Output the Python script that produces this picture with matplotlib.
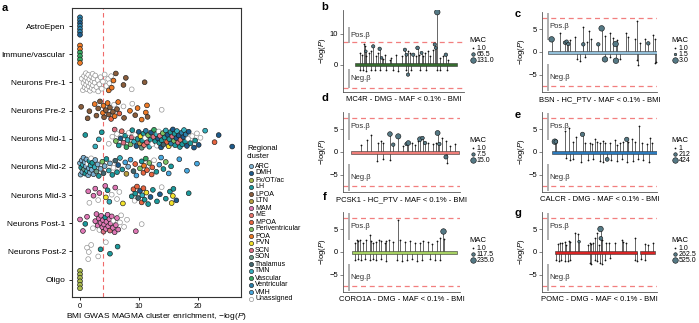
import matplotlib
matplotlib.use("Agg")
import matplotlib.pyplot as plt
import numpy as np
from matplotlib.patches import Rectangle

plt.rcParams["font.family"] = ["Liberation Sans", "DejaVu Sans"]
plt.rcParams["mathtext.fontset"] = "custom"
plt.rcParams["mathtext.rm"] = "Liberation Sans"
plt.rcParams["mathtext.it"] = "Liberation Sans:italic"

W, H = 699, 323
SIG = 7.3  # -log10(5e-8)
SLATE = "#557985"

# --- panel a: regional clusters --------------------------------------------
CLUSTERS = ["ARC", "DMH", "Fx/OT/ac", "LH", "LPOA", "LTN", "MAM", "ME", "MPOA",
            "Periventricular", "POA", "PVN", "SCN", "SON", "Thalamus", "TMN",
            "Vascular", "Ventricular", "VMH", "Unassigned"]
CODES = ["ARC", "DMH", "Fx", "LH", "LPOA", "LTN", "MAM", "ME", "MPOA",
         "Peri", "POA", "PVN", "SCN", "SON", "Thal", "TMN",
         "Vasc", "Vent", "VMH", "U"]
COLORS = ["#7fb3d3", "#1d5b8c", "#a9b94c", "#1c9a9c", "#8a5d3b", "#b79d3f",
          "#df77b5", "#e8736b", "#e8643f", "#7cc063", "#ee7a26", "#f2e22a",
          "#dc6f82", "#6b9a88", "#41656e", "#35afbd", "#36a862", "#2a7faa",
          "#47a8df", "#ffffff"]

ROWS = ["AstroEpen", "Immune/vascular", "Neurons Pre-1", "Neurons Pre-2",
        "Neurons Mid-1", "Neurons Mid-2", "Neurons Mid-3", "Neurons Post-1",
        "Neurons Post-2", "Oligo"]

ASTRO = [(0, "Vent"), (0, "Vent"), (0, "DMH"), (0, "Vent"), (0, "Vent"),
         (0, "Vent"), (0, "DMH")]
IMMUNE = [(0, "POA"), (0, "POA"), (0, "Vasc"), (0, "Vasc"), (0, "Vasc"),
          (0, "POA")]
PRE1 = [(0.3, "U"), (0.5, "U"), (0.6, "U"), (0.7, "U"), (0.8, "U"), (0.9, "U"),
        (1.0, "U"), (1.05, "U"), (1.1, "U"), (1.2, "U"), (1.3, "U"), (1.4, "U"),
        (1.5, "U"), (1.6, "U"), (1.7, "U"), (1.8, "U"), (1.9, "U"), (2.0, "U"),
        (2.1, "U"), (2.15, "U"), (2.2, "U"), (2.3, "U"), (2.4, "U"), (2.5, "U"),
        (2.6, "U"), (2.8, "U"), (3.0, "U"), (3.1, "U"), (3.3, "U"), (3.5, "U"),
        (3.7, "U"), (3.9, "U"), (4.2, "U"), (4.5, "U"), (4.8, "U"), (4.9, "POA"),
        (5.0, "U"), (5.3, "U"), (5.4, "POA"), (5.7, "POA"), (6.1, "LPOA"),
        (7.4, "LPOA"), (7.8, "LPOA"), (8.8, "U"), (11.0, "LPOA")]
PRE2 = [(0.2, "LPOA"), (1.3, "LPOA"), (1.6, "LPOA"), (2.5, "POA"), (2.8, "LPOA"),
        (3.1, "LPOA"), (3.4, "LPOA"), (3.9, "POA"), (4.0, "POA"), (4.1, "LPOA"),
        (4.4, "LPOA"), (4.7, "POA"), (4.9, "LPOA"), (5.1, "LPOA"), (5.3, "MPOA"),
        (5.6, "LPOA"), (5.8, "U"), (5.9, "POA"), (6.3, "LPOA"), (6.5, "POA"),
        (6.7, "MPOA"), (7.4, "U"), (7.5, "LPOA"), (8.5, "POA"), (8.9, "U"),
        (9.4, "LPOA"), (9.8, "POA"), (10.5, "POA"), (11.2, "POA"), (11.4, "POA"),
        (11.5, "LPOA"), (13.9, "U")]
MID1 = [(0.9, "LH"), (2.6, "TMN"), (3.2, "TMN"), (3.7, "LH"), (4.9, "U"),
        (5.5, "U"), (5.9, "SCN"), (6.1, "Peri"), (6.3, "U"), (6.6, "LH"),
        (6.9, "DMH"), (7.1, "ME"), (7.4, "SCN"), (7.7, "LH"), (7.9, "Vasc"),
        (8.1, "TMN"), (8.3, "U"), (8.6, "Peri"), (8.8, "SCN"), (8.9, "LH"),
        (9.2, "TMN"), (9.4, "U"), (9.6, "DMH"), (9.8, "LH"), (10.0, "DMH"),
        (10.2, "LTN"), (10.3, "PVN"), (10.5, "SON"), (10.6, "LH"), (10.8, "LH"),
        (10.9, "ME"), (11.1, "U"), (11.2, "Vent"), (11.4, "SCN"), (11.6, "Peri"),
        (11.8, "TMN"), (12.0, "LH"), (12.1, "DMH"), (12.3, "U"), (12.5, "SCN"),
        (12.6, "Vasc"), (12.8, "LH"), (13.0, "TMN"), (13.1, "U"), (13.3, "DMH"),
        (13.4, "U"), (13.5, "LH"), (13.6, "SCN"), (13.8, "DMH"), (13.9, "LH"),
        (14.1, "Peri"), (14.2, "Thal"), (14.4, "LH"), (14.6, "TMN"), (14.8, "MPOA"),
        (14.9, "DMH"), (15.1, "PVN"), (15.2, "LH"), (15.4, "LH"), (15.5, "Vent"),
        (15.7, "SCN"), (15.8, "DMH"), (16.0, "Peri"), (16.1, "LH"), (16.2, "LH"),
        (16.4, "DMH"), (16.5, "TMN"), (16.7, "SCN"), (16.8, "DMH"), (17.0, "LH"),
        (17.1, "ME"), (17.3, "Vent"), (17.4, "LH"), (17.6, "DMH"), (17.7, "TMN"),
        (17.9, "LH"), (18.0, "Vent"), (18.2, "DMH"), (18.4, "U"), (18.5, "DMH"),
        (18.8, "LH"), (19.1, "U"), (19.4, "DMH"), (19.6, "LH"), (19.9, "U"),
        (20.2, "DMH"), (20.5, "U"), (21.3, "TMN"), (22.9, "MPOA"), (23.6, "DMH"),
        (25.9, "DMH")]
MID2 = [(0.0, "ARC"), (0.1, "ARC"), (0.2, "LH"), (0.3, "ARC"), (0.4, "ARC"),
        (0.5, "TMN"), (0.6, "ARC"), (0.7, "SON"), (0.8, "ARC"), (0.9, "LH"),
        (1.0, "ARC"), (1.1, "ARC"), (1.2, "TMN"), (1.3, "U"), (1.4, "ARC"),
        (1.5, "ARC"), (1.6, "LH"), (1.7, "ARC"), (1.8, "TMN"), (1.9, "U"),
        (2.0, "ARC"), (2.1, "LH"), (2.3, "ARC"), (2.5, "TMN"), (2.6, "ARC"),
        (2.8, "SON"), (3.0, "ARC"), (3.2, "LH"), (3.5, "ARC"), (3.8, "Peri"),
        (4.0, "Thal"), (4.2, "ARC"), (4.5, "LH"), (4.9, "TMN"), (5.1, "ARC"),
        (5.5, "LH"), (5.7, "U"), (6.0, "Thal"), (6.3, "LH"), (6.5, "DMH"),
        (6.8, "TMN"), (7.2, "LH"), (7.7, "VMH"), (7.9, "LTN"), (8.2, "ARC"),
        (8.6, "VMH"), (9.1, "Thal"), (9.4, "MPOA"), (9.6, "VMH"), (10.2, "Peri"),
        (10.5, "LH"), (10.8, "MPOA"), (10.9, "POA"), (11.2, "Vasc"), (11.4, "MPOA"),
        (11.8, "Peri"), (12.2, "MPOA"), (12.3, "MPOA"), (12.6, "U"), (13.0, "LH"),
        (13.5, "VMH"), (13.8, "VMH"), (14.2, "LH"), (14.6, "Peri"), (15.1, "VMH"),
        (15.5, "LH"), (16.9, "VMH"), (18.2, "VMH"), (19.9, "VMH")]
MID3 = [(1.4, "MAM"), (1.6, "U"), (2.3, "MAM"), (2.6, "MAM"), (3.1, "U"),
        (3.3, "MAM"), (4.3, "MAM"), (4.4, "PVN"), (4.7, "LH"), (5.0, "TMN"),
        (5.4, "U"), (6.0, "MAM"), (6.3, "U"), (6.7, "U"), (7.3, "PVN"),
        (8.8, "LH"), (9.1, "MPOA"), (9.3, "U"), (9.4, "LH"), (9.7, "MPOA"),
        (9.9, "Thal"), (10.2, "DMH"), (10.5, "MPOA"), (10.6, "TMN"), (10.8, "MPOA"),
        (11.0, "LH"), (11.3, "PVN"), (11.6, "LH"), (12.0, "DMH"), (12.4, "LH"),
        (13.1, "LH"), (13.6, "DMH"), (13.9, "U"), (14.6, "LH"), (15.3, "LH"),
        (15.6, "PVN"), (15.8, "PVN"), (15.9, "LH"), (16.4, "DMH"), (18.5, "LH")]
POST1 = [(0.0, "MAM"), (0.5, "MAM"), (0.9, "LH"), (1.2, "MAM"), (2.2, "U"),
         (2.6, "MAM"), (2.8, "MAM"), (3.0, "MAM"), (3.2, "MAM"), (3.3, "U"),
         (3.5, "MAM"), (3.6, "MAM"), (3.8, "MAM"), (3.9, "MAM"), (4.0, "SCN"),
         (4.1, "MAM"), (4.3, "LH"), (4.4, "MAM"), (4.5, "MAM"), (4.7, "MAM"),
         (4.8, "MAM"), (5.0, "MAM"), (5.1, "SCN"), (5.2, "MAM"), (5.4, "MAM"),
         (5.6, "MAM"), (5.7, "U"), (5.9, "MAM"), (6.1, "MAM"), (6.3, "MAM"),
         (6.5, "MAM"), (6.8, "U"), (7.0, "U"), (7.5, "U"), (8.0, "U"),
         (9.5, "MAM"), (10.5, "U")]
POST2 = [(1.2, "U"), (1.4, "U"), (1.5, "U"), (1.9, "U"), (3.1, "U"), (3.5, "LH"),
         (4.4, "U"), (5.1, "LH"), (6.4, "LH")]
OLIGO = [(0, "Fx"), (0, "Fx"), (0, "Fx"), (0, "Fx"), (0, "Fx"), (0, "Fx")]

ROW_POINTS = [ASTRO, IMMUNE, PRE1, PRE2, MID1, MID2, MID3, POST1, POST2, OLIGO]
MAGMA_CUTOFF = 4.0

# --- panels b-g: variant-level association (pos, signed -log10 P, MAC) -----
MC4R = [(18, 3.9, 1), (25, 3.3, 1), (29, 6.8, 1), (33, 6.0, 1), (36, 4.4, 40),
        (38, 2.8, 1), (47, 3.9, 1), (54, 4.4, 1), (60, 6.0, 60), (68, 2.8, 1),
        (76, 3.9, 1), (81, 5.2, 65), (87, 2.3, 40), (92, 1.9, 1), (98, 3.3, 1),
        (114, 1.7, 1), (119, 2.3, 1), (135, 3.3, 1), (152, 2.8, 1), (163, 4.9, 60),
        (168, 3.3, 50), (173, 4.4, 1), (181, 3.9, 1), (190, 3.3, 60), (198, 3.0, 1),
        (204, 5.5, 70), (209, 3.3, 1), (217, 3.9, 50), (222, 2.8, 1), (228, 3.9, 1),
        (238, 4.4, 1), (246, 2.8, 1), (255, 4.9, 1), (260, 6.6, 60), (263, 5.5, 50),
        (268, 17.0, 131), (276, 2.3, 1), (287, 2.8, 1), (296, 3.3, 65), (303, 1.7, 1),
        (18, -1.7, 1), (28, -1.5, 1), (38, -2.0, 1), (52, -1.7, 1), (66, -1.7, 1),
        (81, -1.5, 1), (103, -1.7, 1), (125, -1.7, 1), (141, -2.0, 1), (168, -1.5, 1),
        (173, -3.1, 60), (184, -1.5, 1), (211, -1.5, 1), (233, -1.7, 1),
        (266, -1.7, 1), (276, -1.5, 1), (298, -1.7, 1)]
BSN = [(132, 2.75, 3), (432, 4.06, 1), (612, 2.03, 2), (672, 2.25, 2), (732, 1.74, 2),
       (792, 2.6, 1), (972, 3.33, 1), (1248, 5.5, 1), (1272, 1.67, 2), (1392, 2.25, 1),
       (1488, 4.64, 1), (1536, 2.75, 1), (1812, 1.67, 2), (1932, 5.14, 3),
       (2052, 3.48, 1), (2232, 4.06, 1), (2352, 2.97, 1), (2436, 1.74, 3),
       (2472, 2.6, 1), (2808, 4.06, 1), (2892, 3.19, 1), (3132, 2.75, 1),
       (3216, 6.81, 1), (3312, 1.88, 1), (3492, 2.75, 1), (3612, 1.88, 2),
       (3792, 3.7, 1), (3852, 2.75, 1),
       (1032, -1.6, 1), (1152, -1.9, 1), (1332, -1.0, 1), (2052, -1.6, 3),
       (2232, -1.16, 1), (2448, -1.9, 3), (2592, -1.45, 1), (3192, -1.74, 1),
       (3252, -2.83, 1), (3852, -2.46, 1), (3888, -2.1, 1)]
PCSK1 = [(74, 1.6, 1), (114, 2.7, 1), (139, 3.8, 1), (190, 1.96, 1), (207, 2.3, 1),
         (225, 1.96, 1), (272, 3.9, 12), (295, 1.6, 8), (330, 3.4, 14), (365, 1.23, 1),
         (388, 1.74, 8), (400, 1.96, 12), (423, 1.96, 1), (446, 1.6, 1), (469, 2.3, 1),
         (481, 2.8, 12), (499, 3.04, 8), (516, 1.96, 8), (539, 1.96, 1), (574, 1.74, 1),
         (590, 1.96, 1), (604, 4.13, 13), (616, 1.74, 8), (632, 3.04, 1), (662, 2.3, 1),
         (690, 1.23, 1), (725, 1.74, 1),
         (184, -2.03, 1), (225, -1.52, 1), (272, -1.67, 1), (662, -1.09, 10),
         (667, -2.39, 1)]
CALCR = [(14, 2.25, 424), (19, 2.25, 250), (61, 4.64, 1), (81, 5.14, 1), (99, 2.25, 1),
         (115, 3.19, 1), (143, 3.84, 300), (154, 1.88, 1), (177, 2.03, 1), (185, 1.67, 1),
         (201, 2.75, 1), (212, 2.25, 1), (224, 1.88, 1), (240, 2.46, 1), (247, 2.03, 1),
         (271, 1.88, 1), (294, 2.6, 1), (302, 1.52, 1), (317, 2.03, 1), (333, 2.25, 1),
         (349, 2.75, 300), (356, 2.25, 1), (372, 2.75, 1), (387, 2.1, 1), (408, 5.65, 1),
         (419, 1.88, 1), (442, 1.67, 1), (457, 2.97, 1), (465, 2.03, 1),
         (68, -1.38, 1), (84, -1.74, 1), (99, -1.6, 1), (138, -2.1, 1), (170, -1.74, 1),
         (193, -1.6, 1), (224, -1.9, 1), (240, -2.1, 1), (258, -1.6, 250),
         (278, -1.74, 1), (302, -1.9, 1), (325, -1.6, 1), (349, -2.1, 1),
         (380, -1.9, 1), (403, -1.6, 1), (426, -1.74, 1), (454, -2.1, 1)]
CORO1A = [(13, 1.96, 1), (21, 2.68, 1), (28, 2.32, 1), (38, 2.54, 1), (50, 1.96, 1),
          (64, 2.68, 1), (79, 3.77, 1), (86, 2.32, 1), (94, 1.96, 1), (105, 2.1, 1),
          (120, 2.68, 1), (130, 2.32, 1), (145, 1.96, 1), (152, 2.32, 1), (164, 2.54, 1),
          (181, 2.1, 1), (203, 7.03, 1), (211, 2.68, 1), (233, 2.1, 1), (255, 2.32, 1),
          (277, 1.96, 1), (299, 1.96, 1), (313, 2.32, 1), (335, 2.1, 1), (350, 1.74, 1),
          (372, 2.32, 1), (386, 3.04, 1), (398, 4.64, 235), (404, 2.83, 1),
          (13, -1.67, 1), (28, -1.52, 1), (42, -1.81, 1), (57, -1.52, 1), (79, -1.67, 1),
          (94, -1.52, 1), (108, -1.81, 1), (130, -1.52, 1), (152, -1.88, 1),
          (196, -1.67, 1), (218, -2.03, 1), (240, -1.67, 1), (262, -1.52, 1),
          (284, -2.03, 1), (306, -1.67, 1), (342, -1.52, 1), (364, -1.81, 1),
          (386, -1.67, 1)]
POMC = [(9, 1.74, 1), (13, 2.03, 1), (20, 1.88, 1), (27, 2.25, 1), (31, 1.52, 1),
        (38, 2.46, 1), (42, 2.25, 1), (53, 4.2, 1), (62, 3.84, 1), (65, 2.25, 150),
        (89, 1.52, 1), (93, 1.88, 1), (98, 1.74, 1), (102, 2.03, 1), (107, 2.97, 1),
        (113, 4.06, 1), (118, 1.52, 1), (122, 5.0, 525), (123, 2.97, 300),
        (127, 2.6, 1), (136, 1.88, 1), (145, 2.03, 1), (160, 2.03, 1), (178, 2.6, 1),
        (183, 2.25, 1), (190, 2.03, 1), (214, 2.97, 1), (240, 1.74, 1), (249, 1.52, 1),
        (262, 2.03, 1),
        (4, -1.74, 1), (12, -1.96, 1), (18, -1.74, 1), (27, -1.88, 1), (36, -1.96, 1),
        (40, -1.74, 1), (93, -2.32, 1), (98, -2.61, 1), (107, -1.74, 1), (113, -1.96, 1),
        (120, -2.32, 1), (127, -2.61, 1), (134, -1.74, 1), (147, -1.38, 1),
        (214, -1.74, 1), (218, -1.96, 1), (231, -1.6, 1), (240, -1.74, 1)]

GENES = [
    # letter, title, variants, length, bar segments, bar colour, MAC levels, MAC labels
    ("b", "MC4R - DMG - MAF < 0.1% - BMI", MC4R, 332, [(1, 332)], "#356b2e",
     [1.0, 65.5, 131.0], ["1.0", "65.5", "131.0"]),
    ("c", "BSN - HC_PTV - MAF < 0.1% - BMI", BSN, 3926, [(1, 3926)], "#93bfd8",
     [1.0, 1.5, 3.0], ["1.0", "1.5", "3.0"]),
    ("d", "PCSK1 - HC_PTV - MAF < 0.1% - BMI", PCSK1, 753, [(1, 753)], "#ef7d78",
     [1.0, 7.5, 15.0], ["1.0", "7.5", "15.0"]),
    ("e", "CALCR - DMG - MAF < 0.1% - BMI", CALCR, 490, [(1, 490)], "#2c7bbd",
     [1, 212, 424], ["1", "212", "424"]),
    ("f", "CORO1A - DMG - MAF < 0.1% - BMI", CORO1A, 461, [(1, 461)], "#a6d062",
     [1.0, 117.5, 235.0], ["1.0", "117.5", "235.0"]),
    ("g", "POMC - DMG - MAF < 0.1% - BMI", POMC, 267, [(1, 219), (227, 267)], "#d92424",
     [1.0, 262.5, 525.0], ["1.0", "262.5", "525.0"]),
]

# layout in pixels: axes box (l, t, r, b), ylim, yticks, x padding in px, brackets
LAYOUT = {
    "b": dict(box=(343, 10, 464, 92), ylim=(-8.7, 17.7), yticks=[0, 10], pad=(12, 7),
              pos=(7.0, 12.2), neg=(-1.2, -7.5), letter=(325, 7), mac=(469, 41)),
    "c": dict(box=(542, 12, 657, 92), ylim=(-8.7, 8.7), yticks=[-5, 0, 5], pad=(6, 0),
              pos=(2.6, 8.4), neg=(-2.6, -8.4), letter=(518, 14), mac=(671, 41)),
    "d": dict(box=(343, 112, 460, 192), ylim=(-8.7, 8.7), yticks=[-5, 0, 5], pad=(8, 1),
              pos=(2.6, 8.4), neg=(-2.6, -8.4), letter=(325, 98), mac=(469, 141)),
    "e": dict(box=(542, 112, 657, 192), ylim=(-8.7, 8.7), yticks=[-5, 0, 5], pad=(10, 0),
              pos=(2.6, 8.4), neg=(-2.6, -8.4), letter=(518, 115), mac=(671, 141)),
    "f": dict(box=(343, 212, 460, 292), ylim=(-8.7, 8.7), yticks=[-5, 0, 5], pad=(9, 3),
              pos=(2.6, 8.4), neg=(-2.6, -8.4), letter=(325, 197), mac=(469, 241)),
    "g": dict(box=(542, 212, 657, 292), ylim=(-8.7, 8.7), yticks=[-5, 0, 5], pad=(13, 2),
              pos=(2.6, 8.4), neg=(-2.6, -8.4), letter=(518, 213), mac=(671, 241)),
}


def px_rect(l, t, r, b):
    return [l / W, 1 - b / H, (r - l) / W, (b - t) / H]


def mac_size(mac, levels):
    lo, hi = levels[0], levels[-1]
    return 1.1 + 2.9 * (np.asarray(mac, float) - lo) / (hi - lo)


def draw_gene(ax, lay, variants, length, segments, color, levels, title):
    l, t, r, b = lay["box"]
    upp = length / ((r - l) - lay["pad"][0] - lay["pad"][1])  # units per px
    x0 = 1 - lay["pad"][0] * upp
    x1 = length + lay["pad"][1] * upp
    ax.set_xlim(x0, x1)
    ax.set_ylim(*lay["ylim"])
    ypp = (lay["ylim"][1] - lay["ylim"][0]) / (b - t)

    for y in (SIG, -SIG):
        ax.axhline(y, color="#f27f7f", lw=0.9, dashes=(4, 3), zorder=1)

    pos = np.array([v[0] for v in variants], float)
    val = np.array([v[1] for v in variants], float)
    mac = np.array([v[2] for v in variants], float)
    ax.vlines(pos, 0, val, color="#4d4d4d", lw=0.6, zorder=2)

    bh = 3.0 * ypp
    for s0, s1 in segments:
        ax.add_patch(Rectangle((s0, -bh / 2), s1 - s0, bh, facecolor=color,
                               edgecolor="#333333", lw=0.4, zorder=3))

    small = mac <= levels[0]
    ax.scatter(pos[small], val[small], s=1.6, color="#111111", lw=0, zorder=4)
    sz = mac_size(mac[~small], levels)
    ax.scatter(pos[~small], val[~small], s=sz ** 2, color=SLATE,
               edgecolors="#111111", linewidths=0.4, zorder=5)

    bx = x0 + 5.5 * upp
    for (y0, y1), lab in ((lay["pos"], "Pos.\u03b2"), (lay["neg"], "Neg.\u03b2")):
        ax.plot([bx, bx], [y0, y1], color="#9a9a9a", lw=1.1, zorder=2,
                solid_capstyle="butt")
        ax.text(bx + 2 * upp, (y0 + y1) / 2, lab, fontsize=5.5, color="#333333",
                ha="left", va="center", zorder=6)

    for side in ("top", "right"):
        ax.spines[side].set_visible(False)
    for side in ("left", "bottom"):
        ax.spines[side].set_color("#555555")
        ax.spines[side].set_linewidth(0.6)
    ax.set_xticks([])
    ax.set_yticks(lay["yticks"])
    ax.tick_params(axis="y", labelsize=5.5, length=2, width=0.5, pad=1.5,
                   color="#555555")
    ax.set_xlabel(title, fontsize=5.5, labelpad=3)
    ax.set_ylabel("$-$log($P$)", fontsize=5.5, labelpad=1)


fig = plt.figure(figsize=(W / 100, H / 100), dpi=100)

# panel a
ax = fig.add_axes(px_rect(72, 8, 241, 297))
code_color = dict(zip(CODES, COLORS))
for i, pts in enumerate(ROW_POINTS):
    xs = np.array([p[0] for p in pts], float)
    cs = [p[1] for p in pts]
    n = len(xs)
    if np.all(xs == 0):
        dy = np.linspace(-0.31, 0.31, n)
    else:
        dy = ((np.arange(n) * 0.618034 + 0.3) % 1.0 - 0.5) * 0.66
    fc = [code_color[c] for c in cs]
    ec = ["#8c8c8c" if c == "U" else "#1a1a1a" for c in cs]
    ax.scatter(xs, i + dy, s=12, c=fc, edgecolors=ec, linewidths=0.45, zorder=3)
ax.axvline(MAGMA_CUTOFF, color="#f06a6a", lw=0.8, dashes=(4, 3), zorder=1)
ax.set_xlim(-1.36, 27.4)
ax.set_ylim(9.62, -0.64)
ax.set_yticks(range(len(ROWS)))
ax.set_yticklabels(ROWS, fontsize=6)
ax.set_xticks([0, 10, 20])
ax.tick_params(axis="x", labelsize=5.5, length=2.5, width=0.6, pad=1.5)
ax.tick_params(axis="y", length=2.5, width=0.6, pad=2)
for sp in ax.spines.values():
    sp.set_color("#333333")
    sp.set_linewidth(0.8)
ax.set_xlabel("BMI GWAS MAGMA cluster enrichment, $-$log($P$)", fontsize=6,
              labelpad=1)

# panels b-g
for letter, title, variants, length, segs, color, levels, labels in GENES:
    lay = LAYOUT[letter]
    gax = fig.add_axes(px_rect(*lay["box"]))
    draw_gene(gax, lay, variants, length, segs, color, levels, title)

# overlay in pixel coordinates for letters and legends
ov = fig.add_axes([0, 0, 1, 1], zorder=10)
ov.set_xlim(0, W)
ov.set_ylim(H, 0)
ov.axis("off")

ov.text(5, 8, "a", fontsize=8, fontweight="bold", ha="center", va="center")
for letter, *_ in GENES:
    lx, ly = LAYOUT[letter]["letter"]
    ov.text(lx, ly, letter, fontsize=8, fontweight="bold", ha="center", va="center")

# regional cluster legend
ov.text(247, 149, "Regional", fontsize=5.5, ha="left", va="center")
ov.text(247, 157, "cluster", fontsize=5.5, ha="left", va="center")
for k, (name, col) in enumerate(zip(CLUSTERS, COLORS)):
    yy = 166 + 7.0 * k
    ov.scatter([250.5], [yy], s=9, color=col,
               edgecolors="#8c8c8c" if name == "Unassigned" else "#1a1a1a",
               linewidths=0.45)
    ov.text(255, yy, name, fontsize=5, ha="left", va="center")

# MAC legends
for letter, title, variants, length, segs, color, levels, labels in GENES:
    mx, my = LAYOUT[letter]["mac"]
    ov.text(mx, my, "MAC", fontsize=5.5, ha="left", va="center")
    for k, (lv, lab) in enumerate(zip(levels, labels)):
        yy = my + 7 + 6 * k
        d = mac_size([lv], levels)[0]
        if k == 0:
            ov.scatter([mx + 3.5], [yy], s=1.6, color="#111111", lw=0)
        else:
            ov.scatter([mx + 3.5], [yy], s=d ** 2, color=SLATE,
                       edgecolors="#111111", linewidths=0.4)
        ov.text(mx + 7.5, yy, lab, fontsize=5, ha="left", va="center")

fig.savefig("out.png", dpi=100)
